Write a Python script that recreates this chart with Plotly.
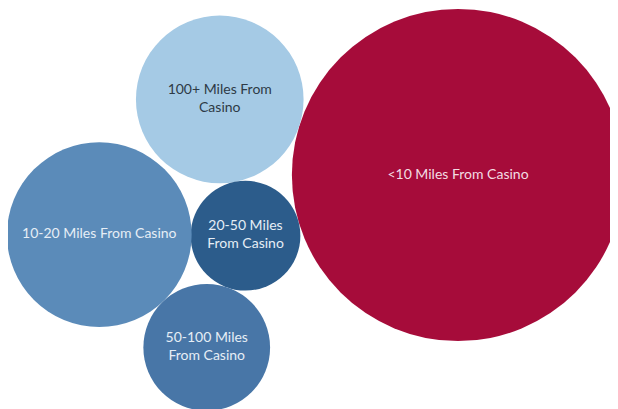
import math
import plotly.graph_objects as go

# ---- data ----
categories = ["<10 Miles From Casino", "100+ Miles From Casino", "20-50 Miles From Casino",
              "10-20 Miles From Casino", "50-100 Miles From Casino"]
labels = ["<10 Miles From Casino", "100+ Miles From<br>Casino", "20-50 Miles<br>From Casino",
          "10-20 Miles From Casino", "50-100 Miles<br>From Casino"]
values = [55, 14, 6, 17, 8]   # share of visitors (%)

# ---- styles ----
colors = ["#A60C3A", "#A5CAE5", "#2C5C8B", "#5B8BB9", "#4876A7"]
text_colors = ["#F3DDE3", "#2E3A46", "#E6EEF6", "#E6EEF6", "#E6EEF6"]
K = 22.4  # px per sqrt(value)
radii = [K * math.sqrt(v) for v in values]


def tangent(A, rA, B, rB, r, prefer):
    ax, ay = A
    bx, by = B
    d = math.hypot(bx - ax, by - ay)
    dA, dB = rA + r, rB + r
    a = (dA ** 2 - dB ** 2 + d ** 2) / (2 * d)
    h = math.sqrt(max(dA ** 2 - a ** 2, 0))
    ux, uy = (bx - ax) / d, (by - ay) / d
    px, py = ax + a * ux, ay + a * uy
    cands = [(px - h * uy, py + h * ux), (px + h * uy, py - h * ux)]
    return max(cands, key=lambda c: c[0] * prefer[0] + c[1] * prefer[1])


def at_angle(A, rA, r, deg, gap=0.0):
    t = math.radians(deg)
    d = rA + r + gap
    return (A[0] + d * math.cos(t), A[1] + d * math.sin(t))


# ---- packing (screen coords, y down) ----
pos = [None] * 5
pos[0] = (0.0, 0.0)
pos[1] = at_angle(pos[0], radii[0], radii[1], 197.6)
pos[2] = tangent(pos[0], radii[0], pos[1], radii[1], radii[2], (0, 1))
pos[3] = at_angle(pos[2], radii[2], radii[3], 180.4, gap=-1.0)
pos[4] = tangent(pos[3], radii[3], pos[2], radii[2], radii[4], (0, 1))

xs = [p[0] for p in pos]
ys = [p[1] for p in pos]

fig = go.Figure(go.Scatter(
    x=xs, y=ys, mode="markers+text",
    text=labels, textposition="middle center",
    textfont=dict(family="Lato", size=14, color=text_colors),
    marker=dict(size=[2 * r for r in radii], sizemode="diameter", sizeref=1,
                color=colors, line=dict(width=0), opacity=1),
    hoverinfo="skip", cliponaxis=True,
))

W, H = 610, 401
ox, oy = 450, 167
fig.update_layout(
    width=W, height=H, margin=dict(l=0, r=0, t=0, b=0),
    paper_bgcolor="white", plot_bgcolor="white", showlegend=False,
    xaxis=dict(range=[-ox, W - ox], visible=False, fixedrange=True),
    yaxis=dict(range=[H - oy, -oy], visible=False, fixedrange=True),
)
fig.write_html("out.html")
